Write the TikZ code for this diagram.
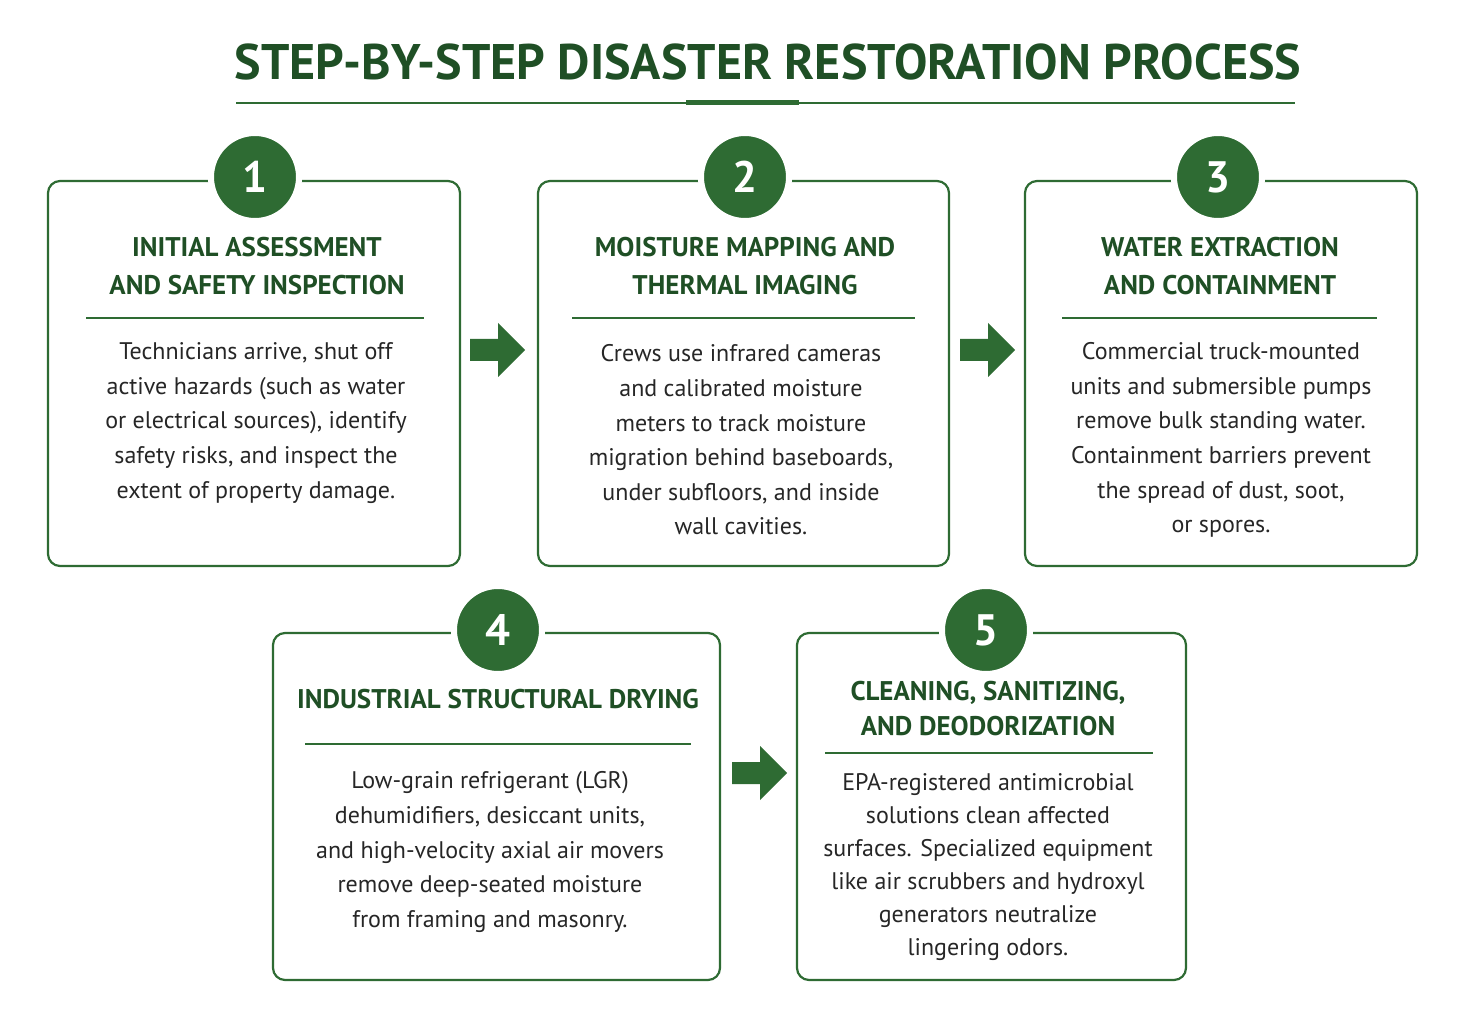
\documentclass[tikz,border=0pt]{standalone}
\usepackage{fontspec}
\setmainfont{PT Sans}
\definecolor{gdark}{HTML}{1F4F25}
\definecolor{gbox}{HTML}{2E6B33}
\begin{document}
\begin{tikzpicture}[x=1pt,y=-1pt,
 box/.style={draw=gbox,line width=2.2pt,rounded corners=12pt},
 num/.style={circle,fill=gbox,draw=white,line width=6pt,minimum size=88pt,text=white,font=\fontsize{44}{44}\selectfont\bfseries},
 head/.style={text=gdark,align=center,font=\fontsize{27}{38}\selectfont\bfseries},
 body/.style={text=black!85,align=center,font=\fontsize{24}{34.6}\selectfont},
 sep/.style={draw=gbox,line width=1.2pt},
 arr/.style={fill=gbox}]
\useasboundingbox (0,0) rectangle (1468,1024);
\node[text=gdark,font=\fontsize{50}{50}\selectfont\bfseries] (title) at (768,62) {STEP-BY-STEP DISASTER RESTORATION PROCESS};
\draw[gbox,line width=1.2pt] (236,103) -- (1295,103);
\draw[gbox,line width=5pt] (686,103) -- (799,103);
% boxes
\draw[box] (48,181) rectangle (460,566);
\draw[box] (538,181) rectangle (949,566);
\draw[box] (1025,181) rectangle (1417,566);
\draw[box] (273,633) rectangle (720,980);
\draw[box] (797,633) rectangle (1186,980);
\node[num] (n1) at (255,177) {1};
\node[num] (n2) at (745,177) {2};
\node[num] (n3) at (1218,177) {3};
\node[num] (n4) at (498,630) {4};
\node[num] (n5) at (986,630) {5};
% box 1
\node[head] (h1) at (257,266) {INITIAL ASSESSMENT\\AND SAFETY INSPECTION};
\draw[sep] (86,318) -- (424,318);
\node[body] (b1) at (256,423) {Technicians arrive, shut off\\active hazards (such as water\\or electrical sources), identify\\safety risks, and inspect the\\extent of property damage.};
% box 2
\node[head] (h2) at (745,266) {MOISTURE MAPPING AND\\THERMAL IMAGING};
\draw[sep] (572,318) -- (915,318);
\node[body] (b2) at (741,440) {Crews use infrared cameras\\and calibrated moisture\\meters to track moisture\\migration behind baseboards,\\under subfloors, and inside\\wall cavities.};
% box 3
\node[head] (h3) at (1220,266) {WATER EXTRACTION\\AND CONTAINMENT};
\draw[sep] (1062,318) -- (1377,318);
\node[body] (b3) at (1221,440) {Commercial truck-mounted\\units and submersible pumps\\remove bulk standing water.\\Containment barriers prevent\\the spread of dust, soot,\\or spores.};
% box 4
\node[head] (h4) at (498,699) {INDUSTRIAL STRUCTURAL DRYING};
\draw[sep] (305,744) -- (691,744);
\node[body] (b4) at (490,852) {Low-grain refrigerant (LGR)\\dehumidifiers, desiccant units,\\and high-velocity axial air movers\\remove deep-seated moisture\\from framing and masonry.};
% box 5
\node[head,font=\fontsize{27}{35}\selectfont\bfseries] (h5) at (988,709) {CLEANING, SANITIZING,\\AND DEODORIZATION};
\draw[sep] (825,753) -- (1153,753);
\node[body,font=\fontsize{24}{33}\selectfont] (b5) at (988,867) {EPA-registered antimicrobial\\solutions clean affected\\surfaces. Specialized equipment\\like air scrubbers and hydroxyl\\generators neutralize\\lingering odors.};
% arrows
\foreach \cx/\cy in {497/350, 987/350, 759/773}{
  \fill[arr] (\cx-27,\cy-11) -- (\cx+1,\cy-11) -- (\cx+1,\cy-27) -- (\cx+28,\cy) -- (\cx+1,\cy+27) -- (\cx+1,\cy+11) -- (\cx-27,\cy+11) -- cycle;
}
\end{tikzpicture}
\end{document}
